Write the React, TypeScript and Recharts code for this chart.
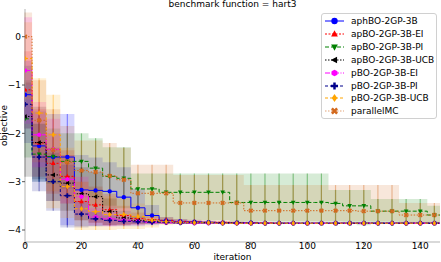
import { ComposedChart, Line, Area, XAxis, YAxis, ErrorBar } from 'recharts'

const iterations = [0, 5, 10, 15, 20, 25, 30, 35, 40, 45, 50, 55, 60, 65, 70, 75, 80, 85, 90, 95, 100, 105, 110, 115, 120, 125, 130, 135, 140, 145, 147]

const xTicks = [0, 20, 40, 60, 80, 100, 120, 140]
const yTicks = [-4, -3, -2, -1, 0]

// mean / lower / upper of best objective, read every 5 iterations
const aphMean = [-1.2, -2.26, -2.49, -2.49, -3.17, -3.18, -3.2, -3.32, -3.54, -3.7, -3.8, -3.82, -3.83, -3.84, -3.85, -3.85, -3.85, -3.86, -3.86, -3.86, -3.86, -3.86, -3.86, -3.86, -3.86, -3.86, -3.86, -3.86, -3.86, -3.86, -3.86]
const aphLo = [-1.9, -3.0, -3.4, -3.9, -3.92, -3.92, -3.92, -3.92, -3.92, -3.9, -3.87, -3.87, -3.87, -3.87, -3.87, -3.87, -3.87, -3.87, -3.87, -3.87, -3.87, -3.87, -3.87, -3.87, -3.87, -3.87, -3.87, -3.87, -3.87, -3.87, -3.87]
const aphHi = [-0.5, -1.55, -1.6, -1.6, -2.45, -2.5, -2.6, -2.7, -3.15, -3.48, -3.73, -3.77, -3.8, -3.82, -3.83, -3.83, -3.83, -3.85, -3.85, -3.85, -3.85, -3.85, -3.85, -3.85, -3.85, -3.85, -3.85, -3.85, -3.85, -3.85, -3.85]

const eiMean = [-1.1, -2.2, -2.62, -2.89, -3.41, -3.48, -3.58, -3.7, -3.76, -3.78, -3.8, -3.82, -3.83, -3.84, -3.84, -3.85, -3.85, -3.85, -3.86, -3.86, -3.86, -3.86, -3.86, -3.86, -3.86, -3.86, -3.86, -3.86, -3.86, -3.86, -3.86]
const eiLo = [-1.9, -2.9, -3.25, -3.45, -3.8, -3.85, -3.9, -3.9, -3.88, -3.87, -3.87, -3.87, -3.87, -3.87, -3.87, -3.87, -3.87, -3.87, -3.87, -3.87, -3.87, -3.87, -3.87, -3.87, -3.87, -3.87, -3.87, -3.87, -3.87, -3.87, -3.87]
const eiHi = [-0.3, -1.5, -2.0, -2.35, -3.0, -3.1, -3.25, -3.5, -3.64, -3.69, -3.73, -3.77, -3.79, -3.81, -3.82, -3.83, -3.83, -3.84, -3.85, -3.85, -3.85, -3.85, -3.85, -3.85, -3.85, -3.85, -3.85, -3.85, -3.85, -3.85, -3.85]

const piMean = [-1.7, -2.43, -2.48, -2.58, -2.58, -2.72, -2.89, -2.93, -3.15, -3.15, -3.22, -3.22, -3.22, -3.22, -3.22, -3.43, -3.43, -3.43, -3.43, -3.43, -3.43, -3.43, -3.45, -3.5, -3.5, -3.61, -3.61, -3.61, -3.61, -3.69, -3.69]
const piLo = [-2.5, -3.0, -3.05, -3.15, -3.15, -3.3, -3.5, -3.55, -3.75, -3.75, -3.8, -3.8, -3.8, -3.8, -3.8, -3.83, -3.83, -3.83, -3.83, -3.83, -3.83, -3.83, -3.83, -3.86, -3.9, -3.86, -3.86, -3.86, -3.86, -3.86, -3.86]
const piHi = [-0.9, -1.8, -1.9, -2.0, -2.0, -2.1, -2.29, -2.29, -2.83, -2.83, -2.83, -2.83, -2.83, -2.83, -2.83, -2.83, -2.83, -2.83, -2.83, -2.83, -2.83, -2.83, -3.17, -3.17, -3.17, -3.36, -3.36, -3.36, -3.36, -3.5, -3.5]

const ucbMean = [-1.65, -2.19, -2.86, -3.03, -3.25, -3.31, -3.62, -3.75, -3.8, -3.82, -3.84, -3.85, -3.85, -3.85, -3.85, -3.85, -3.86, -3.86, -3.86, -3.86, -3.86, -3.86, -3.86, -3.86, -3.86, -3.86, -3.86, -3.86, -3.86, -3.86, -3.86]
const ucbLo = [-2.9, -2.95, -3.4, -3.6, -3.8, -3.85, -3.9, -3.9, -3.88, -3.87, -3.87, -3.87, -3.87, -3.87, -3.87, -3.87, -3.87, -3.87, -3.87, -3.87, -3.87, -3.87, -3.87, -3.87, -3.87, -3.87, -3.87, -3.87, -3.87, -3.87, -3.87]
const ucbHi = [-0.95, -1.45, -2.3, -2.45, -2.7, -2.8, -3.35, -3.6, -3.72, -3.77, -3.81, -3.83, -3.84, -3.84, -3.84, -3.84, -3.85, -3.85, -3.85, -3.85, -3.85, -3.85, -3.85, -3.85, -3.85, -3.85, -3.85, -3.85, -3.85, -3.85, -3.85]

const pEiMean = [-0.7, -2.03, -2.33, -2.95, -3.31, -3.73, -3.77, -3.8, -3.82, -3.84, -3.85, -3.85, -3.86, -3.86, -3.86, -3.86, -3.86, -3.86, -3.86, -3.86, -3.86, -3.86, -3.86, -3.86, -3.86, -3.86, -3.86, -3.86, -3.86, -3.86, -3.86]
const pEiLo = [-1.8, -2.7, -2.95, -3.45, -3.7, -3.9, -3.92, -3.9, -3.9, -3.88, -3.87, -3.87, -3.87, -3.87, -3.87, -3.87, -3.87, -3.87, -3.87, -3.87, -3.87, -3.87, -3.87, -3.87, -3.87, -3.87, -3.87, -3.87, -3.87, -3.87, -3.87]
const pEiHi = [0.4, -1.35, -1.7, -2.45, -2.9, -3.55, -3.62, -3.7, -3.75, -3.8, -3.82, -3.83, -3.85, -3.85, -3.85, -3.85, -3.85, -3.85, -3.85, -3.85, -3.85, -3.85, -3.85, -3.85, -3.85, -3.85, -3.85, -3.85, -3.85, -3.85, -3.85]

const pPiMean = [-1.4, -2.49, -3.0, -3.29, -3.67, -3.77, -3.8, -3.82, -3.83, -3.84, -3.84, -3.85, -3.85, -3.85, -3.86, -3.86, -3.86, -3.86, -3.86, -3.86, -3.86, -3.86, -3.86, -3.86, -3.86, -3.86, -3.86, -3.86, -3.86, -3.86, -3.86]
const pPiLo = [-2.2, -3.2, -3.6, -3.95, -3.95, -3.92, -3.9, -3.88, -3.88, -3.87, -3.87, -3.87, -3.87, -3.87, -3.87, -3.87, -3.87, -3.87, -3.87, -3.87, -3.87, -3.87, -3.87, -3.87, -3.87, -3.87, -3.87, -3.87, -3.87, -3.87, -3.87]
const pPiHi = [-0.6, -1.8, -2.4, -2.65, -3.4, -3.62, -3.7, -3.76, -3.79, -3.81, -3.82, -3.83, -3.84, -3.84, -3.85, -3.85, -3.85, -3.85, -3.85, -3.85, -3.85, -3.85, -3.85, -3.85, -3.85, -3.85, -3.85, -3.85, -3.85, -3.85, -3.85]

const pUcbMean = [-0.45, -1.58, -2.03, -3.1, -3.56, -3.62, -3.68, -3.68, -3.72, -3.8, -3.83, -3.84, -3.85, -3.85, -3.86, -3.86, -3.86, -3.86, -3.86, -3.86, -3.86, -3.86, -3.86, -3.86, -3.86, -3.86, -3.86, -3.86, -3.86, -3.86, -3.86]
const pUcbLo = [-1.3, -2.45, -3.55, -3.75, -4.0, -4.0, -4.0, -3.98, -3.98, -3.95, -3.9, -3.88, -3.87, -3.87, -3.87, -3.87, -3.87, -3.87, -3.87, -3.87, -3.87, -3.87, -3.87, -3.87, -3.87, -3.87, -3.87, -3.87, -3.87, -3.87, -3.87]
const pUcbHi = [0.3, -0.86, -1.2, -2.3, -3.0, -3.15, -3.3, -3.35, -3.45, -3.65, -3.76, -3.8, -3.82, -3.83, -3.84, -3.84, -3.84, -3.84, -3.84, -3.84, -3.84, -3.84, -3.84, -3.84, -3.84, -3.84, -3.84, -3.84, -3.84, -3.84, -3.84]

const mcMean = [0.0, -1.73, -2.34, -2.6, -2.77, -2.8, -2.88, -2.96, -3.24, -3.24, -3.24, -3.44, -3.44, -3.44, -3.44, -3.44, -3.6, -3.6, -3.6, -3.6, -3.6, -3.6, -3.6, -3.6, -3.61, -3.61, -3.61, -3.69, -3.69, -3.69, -3.69]
const mcLo = [-1.0, -2.6, -3.2, -3.35, -3.45, -3.5, -3.55, -3.6, -3.8, -3.8, -3.8, -3.85, -3.85, -3.85, -3.85, -3.85, -3.82, -3.82, -3.82, -3.82, -3.82, -3.82, -3.82, -3.82, -3.82, -3.82, -3.82, -3.86, -3.86, -3.86, -3.86]
const mcHi = [0.5, -0.9, -1.5, -1.85, -2.15, -2.15, -2.2, -2.3, -2.65, -2.65, -2.65, -2.86, -2.86, -2.86, -2.86, -2.86, -3.07, -3.07, -3.07, -3.07, -3.07, -3.07, -3.07, -3.07, -3.07, -3.07, -3.07, -3.44, -3.44, -3.44, -3.44]

const series = [
  { key: 'aph', name: 'aphBO-2GP-3B', mean: aphMean, lo: aphLo, hi: aphHi, color: '#0000ff', dash: undefined, shape: 'circle' },
  { key: 'ei', name: 'apBO-2GP-3B-EI', mean: eiMean, lo: eiLo, hi: eiHi, color: '#ff0000', dash: '2 1.5', shape: 'up' },
  { key: 'pi', name: 'apBO-2GP-3B-PI', mean: piMean, lo: piLo, hi: piHi, color: '#008000', dash: '4 2', shape: 'down' },
  { key: 'ucb', name: 'apBO-2GP-3B-UCB', mean: ucbMean, lo: ucbLo, hi: ucbHi, color: '#000000', dash: '1.5 1.5', shape: 'left' },
  { key: 'pei', name: 'pBO-2GP-3B-EI', mean: pEiMean, lo: pEiLo, hi: pEiHi, color: '#ff00ff', dash: '5 1.5 1 1.5', shape: 'hex' },
  { key: 'ppi', name: 'pBO-2GP-3B-PI', mean: pPiMean, lo: pPiLo, hi: pPiHi, color: '#00008b', dash: '3 2', shape: 'plus' },
  { key: 'pucb', name: 'pBO-2GP-3B-UCB', mean: pUcbMean, lo: pUcbLo, hi: pUcbHi, color: '#ffa500', dash: '3 2', shape: 'diamond' },
  { key: 'mc', name: 'parallelMC', mean: mcMean, lo: mcLo, hi: mcHi, color: '#d2691e', dash: '1.5 1.5', shape: 'x' },
]

const data = iterations.map((iter, i) => {
  const row: any = { iter }
  series.forEach((s) => {
    row[s.key] = s.mean[i]
    row[s.key + 'Band'] = [s.lo[i], s.hi[i]]
    row[s.key + 'Err'] = iter % 5 === 0 ? [s.mean[i] - s.lo[i], s.hi[i] - s.mean[i]] : null
  })
  return row
})

const font = '"DejaVu Sans", sans-serif'
const spine = '#b3b3b3'

function pts(list: number[][], cx: number, cy: number, s: number, rot = 0) {
  const c = Math.cos(rot)
  const sn = Math.sin(rot)
  return list.map(([x, y]) => `${cx + s * (x * c - y * sn)},${cy + s * (x * sn + y * c)}`).join(' ')
}

const crossShape = [[-0.35, -1], [0.35, -1], [0.35, -0.35], [1, -0.35], [1, 0.35], [0.35, 0.35], [0.35, 1], [-0.35, 1], [-0.35, 0.35], [-1, 0.35], [-1, -0.35], [-0.35, -0.35]]

function Marker({ shape, cx, cy, color, size }: { shape: string; cx: number; cy: number; color: string; size: number }) {
  const s = size
  switch (shape) {
    case 'circle':
      return <circle cx={cx} cy={cy} r={s} fill={color} />
    case 'up':
      return <polygon points={pts([[0, -1.15], [1.05, 0.8], [-1.05, 0.8]], cx, cy, s)} fill={color} />
    case 'down':
      return <polygon points={pts([[0, 1.15], [1.05, -0.8], [-1.05, -0.8]], cx, cy, s)} fill={color} />
    case 'left':
      return <polygon points={pts([[-1.15, 0], [0.8, -1.05], [0.8, 1.05]], cx, cy, s)} fill={color} />
    case 'hex':
      return <polygon points={pts([0, 1, 2, 3, 4, 5].map((k) => [Math.sin((k * Math.PI) / 3), -Math.cos((k * Math.PI) / 3)]), cx, cy, s * 1.05)} fill={color} />
    case 'plus':
      return <polygon points={pts(crossShape, cx, cy, s * 1.1)} fill={color} />
    case 'diamond':
      return <polygon points={pts([[0, -1.25], [0.85, 0], [0, 1.25], [-0.85, 0]], cx, cy, s)} fill={color} />
    case 'x':
      return <polygon points={pts(crossShape, cx, cy, s * 1.15, Math.PI / 4)} fill={color} />
    default:
      return null
  }
}

function makeDot(shape: string, color: string) {
  return (props: any) => {
    const { cx, cy, payload, index } = props
    if (cx == null || cy == null || payload.iter % 5 !== 0) return <g key={index} />
    return <Marker key={index} shape={shape} cx={cx} cy={cy} color={color} size={2.2} />
  }
}

function LegendBox() {
  return (
    <div
      style={{
        position: 'absolute',
        left: 321,
        top: 13,
        width: 116,
        height: 106,
        border: '1px solid #d0d0d0',
        borderRadius: 3,
        background: 'rgba(255,255,255,0.8)',
        fontFamily: font,
        fontSize: 9,
        color: '#000',
        boxSizing: 'border-box',
        paddingTop: 1,
      }}
    >
      {series.map((s) => (
        <div key={s.key} style={{ display: 'flex', alignItems: 'center', height: 12.85 }}>
          <svg width={27} height={12} style={{ marginLeft: 2, flexShrink: 0 }}>
            <line x1={1} y1={6} x2={20} y2={6} stroke={s.color} strokeWidth={1} strokeDasharray={s.dash} opacity={s.key === 'mc' ? 0.6 : 1} />
            <Marker shape={s.shape} cx={10.5} cy={6} color={s.color} size={3.2} />
          </svg>
          <span style={{ whiteSpace: 'nowrap' }}>{s.name}</span>
        </div>
      ))}
    </div>
  )
}

export default function App() {
  return (
    <div style={{ position: 'absolute', left: 0, top: 0, width: 441, height: 262, background: '#fff', overflow: 'hidden' }}>
      <div style={{ position: 'absolute', left: 25, top: 0, width: 415, textAlign: 'center', fontFamily: font, fontSize: 9, lineHeight: '9px', color: '#000' }}>
        benchmark function = hart3
      </div>
      <ComposedChart width={441} height={262} data={data} margin={{ top: 9, right: 1, bottom: 0, left: 0 }}>
        <XAxis
          dataKey="iter"
          type="number"
          domain={[0, 147]}
          ticks={xTicks}
          allowDataOverflow
          height={20}
          tickSize={3}
          tickMargin={0}
          axisLine={{ stroke: spine }}
          tickLine={{ stroke: '#555' }}
          tick={{ fontSize: 9, fill: '#000', fontFamily: font, dy: -2 }}
          label={{ value: 'iteration', position: 'insideBottom', offset: 2, fontSize: 9, fill: '#000', fontFamily: font }}
        />
        <XAxis xAxisId="top" orientation="top" type="number" domain={[0, 147]} height={0} tick={false} tickLine={false} axisLine={{ stroke: spine }} />
        <YAxis
          type="number"
          domain={[-4.248, 0.573]}
          ticks={yTicks}
          allowDataOverflow
          width={25}
          tickSize={3}
          tickMargin={1}
          axisLine={{ stroke: spine }}
          tickLine={{ stroke: '#555' }}
          tick={{ fontSize: 9, fill: '#000', fontFamily: font }}
          tickFormatter={(v: number) => String(v).replace('-', '\u2212')}
          label={{ value: 'objective', angle: -90, position: 'insideLeft', offset: 4, style: { textAnchor: 'middle' }, fontSize: 9, fill: '#000', fontFamily: font }}
        />
        <YAxis yAxisId="right" orientation="right" type="number" domain={[-4.248, 0.573]} width={0} tick={false} tickLine={false} axisLine={{ stroke: spine }} />
        {series.map((s) => (
          <Area
            key={s.key + 'Band'}
            dataKey={s.key + 'Band'}
            type="step"
            stroke="none"
            fill={s.color}
            fillOpacity={0.16}
            isAnimationActive={false}
            activeDot={false}
          />
        ))}
        {series.map((s) => (
          <Line
            key={s.key}
            dataKey={s.key}
            type="step"
            stroke={s.color}
            strokeWidth={1}
            strokeDasharray={s.dash}
            dot={makeDot(s.shape, s.color)}
            activeDot={false}
            isAnimationActive={false}
          >
            <ErrorBar dataKey={s.key + 'Err'} width={0} stroke={s.color} strokeOpacity={0.4} strokeWidth={1.2} direction="y" isAnimationActive={false} />
          </Line>
        ))}
      </ComposedChart>
      <LegendBox />
    </div>
  )
}
